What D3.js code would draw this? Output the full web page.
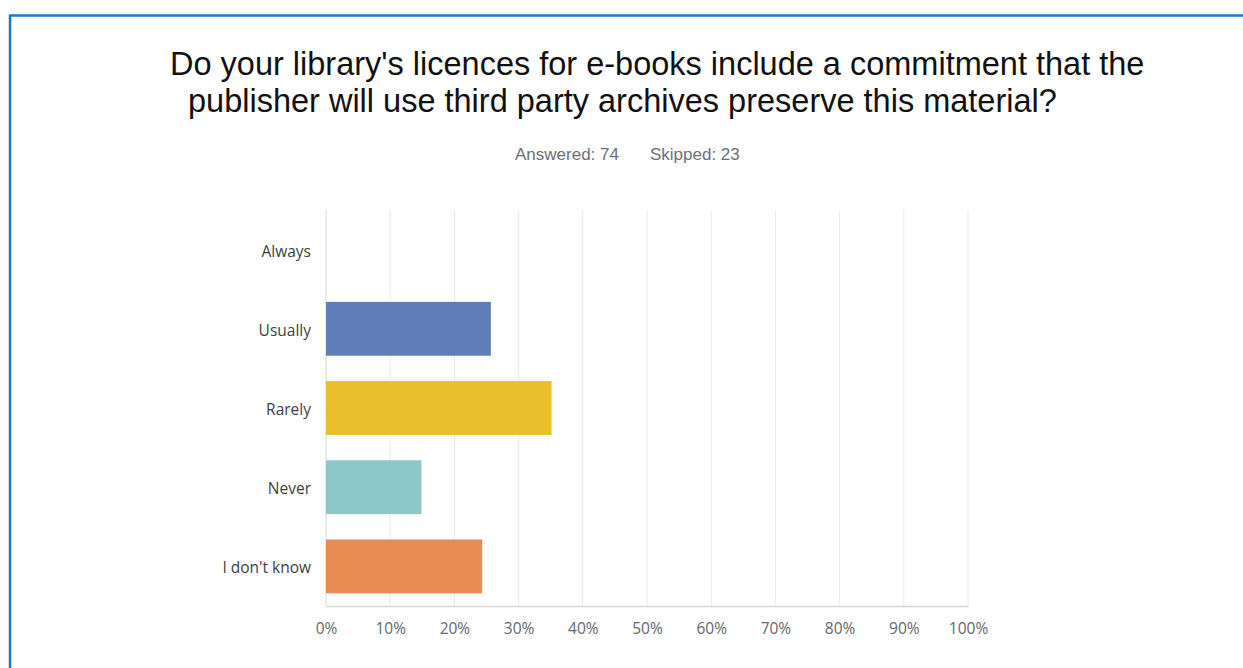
<!DOCTYPE html>
<html>
<head>
<meta charset="utf-8">
<script src="https://cdn.jsdelivr.net/npm/d3@7"></script>
<style>
  html, body { margin: 0; padding: 0; background: #fff; }
  svg { display: block; }
</style>
</head>
<body>
<svg id="chart" width="1243" height="668"></svg>
<script>
// Survey responses (share of 74 answers)
const categories = ["Always", "Usually", "Rarely", "Never", "I don't know"];
const shares = [0, 19 / 74, 26 / 74, 11 / 74, 18 / 74];
const barColors = ["#5f7db8", "#5f7db8", "#ebbf2c", "#8dc7c8", "#e88b52"];
const tickValues = [0, 0.1, 0.2, 0.3, 0.4, 0.5, 0.6, 0.7, 0.8, 0.9, 1.0];
const titleLines = [
  "Do your library's licences for e-books include a commitment that the",
  "publisher will use third party archives preserve this material?"
];
const answered = 74, skipped = 23;

const svg = d3.select("#chart");
const W = 1243, H = 668;

// Frame: blue rule along the top and left edge
svg.append("line").attr("x1", 10).attr("x2", W).attr("y1", 15.5).attr("y2", 15.5)
  .attr("stroke", "#1b7acb").attr("stroke-width", 2.5);
svg.append("line").attr("x1", 10).attr("x2", 10).attr("y1", 14.5).attr("y2", H)
  .attr("stroke", "#1b7acb").attr("stroke-width", 2.5);

// Title
const titleX = [170, 188];
svg.append("g").selectAll("text").data(titleLines).join("text")
  .attr("x", (d, i) => titleX[i])
  .attr("y", (d, i) => 75 + i * 37)
  .attr("font-family", "'Liberation Sans', Arial, sans-serif")
  .attr("font-size", 32.5)
  .attr("fill", "#111")
  .text(d => d);

// Response counts
const sub = svg.append("text")
  .attr("x", 515).attr("y", 160)
  .attr("font-family", "'Liberation Sans', Arial, sans-serif")
  .attr("font-size", 17)
  .attr("fill", "#6b7075");
sub.append("tspan").text(`Answered: ${answered}`);
sub.append("tspan").attr("dx", 31).text(`Skipped: ${skipped}`);

// Plot area
const m = { left: 326, right: 968, top: 210, bottom: 606 };
const x = d3.scaleLinear().domain([0, 1]).range([m.left, m.right]);
const y = d3.scaleBand().domain(categories).range([m.top, m.bottom])
  .paddingInner(0.32).paddingOuter(0.16);

// Vertical gridlines
svg.append("g").selectAll("line").data(tickValues).join("line")
  .attr("x1", d => x(d)).attr("x2", d => x(d))
  .attr("y1", m.top).attr("y2", m.bottom)
  .attr("stroke", d => d === 0 ? "#d6d6d6" : "#e9e9ec")
  .attr("stroke-width", 1);

// Bars
svg.append("g").selectAll("rect").data(categories).join("rect")
  .attr("x", x(0))
  .attr("y", d => y(d))
  .attr("width", (d, i) => x(shares[i]) - x(0))
  .attr("height", y.bandwidth())
  .attr("fill", (d, i) => barColors[i]);

// Baseline and tick labels
const xAxis = d3.axisBottom(x).tickValues(tickValues)
  .tickFormat(d3.format(".0%")).tickSize(0).tickPadding(17);
const gx = svg.append("g").attr("transform", `translate(0,${m.bottom})`).call(xAxis);
gx.select(".domain").attr("stroke", "#d4d4d4").attr("stroke-width", 1.5);
gx.selectAll("text")
  .attr("font-family", "'Open Sans', sans-serif")
  .attr("font-size", 15.5)
  .attr("fill", "#63676b");

// Category labels
const yAxis = d3.axisLeft(y).tickSize(0).tickPadding(15);
const gy = svg.append("g").attr("transform", `translate(${m.left},0)`).call(yAxis);
gy.select(".domain").remove();
gy.selectAll("text")
  .attr("dy", "0.45em")
  .attr("font-family", "'Open Sans', sans-serif")
  .attr("font-size", 15.5)
  .attr("fill", "#3a3f45");
</script>
</body>
</html>
